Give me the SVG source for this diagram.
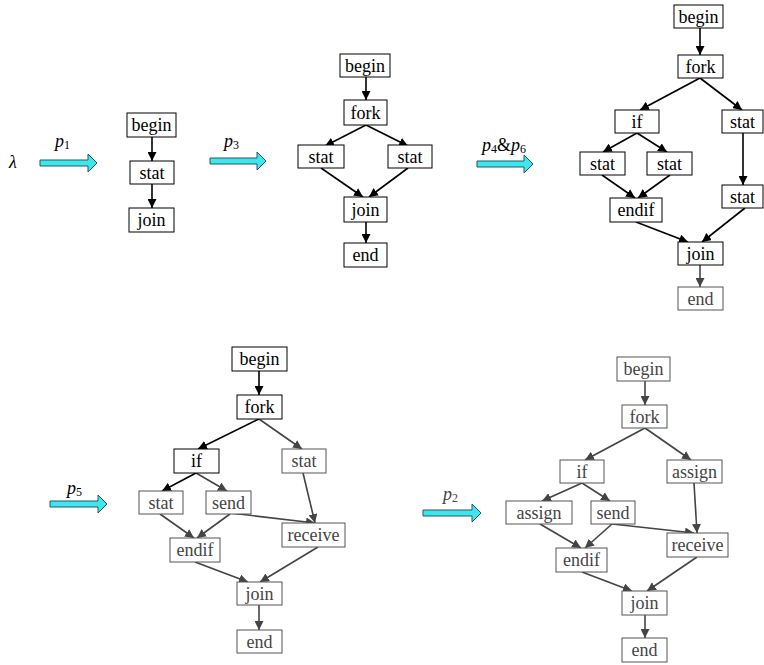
<svg xmlns="http://www.w3.org/2000/svg" width="764" height="665" viewBox="0 0 764 665" font-family="'Liberation Serif', 'Times New Roman', 'DejaVu Serif', serif">
<style>
text{font-family:'Liberation Serif','Times New Roman','DejaVu Serif',serif}
.n rect{fill:#fff;stroke:#000;stroke-width:1}
.n text{font-size:18px;fill:#000;text-anchor:middle}
.g rect{fill:#fff;stroke:#555;stroke-width:1}
.g text{font-size:18px;fill:#444;text-anchor:middle}
.e{stroke:#000;stroke-width:1.6;fill:none;marker-end:url(#ab)}
.eg{stroke:#444;stroke-width:1.6;fill:none;marker-end:url(#ag)}
.ca{fill:#40e6ee;stroke:#1f5a64;stroke-width:1}
.lb{font-size:18px;font-style:italic;fill:#000}
.lbg{font-size:18px;font-style:italic;fill:#444}
.sub{font-style:normal;font-size:12px}
</style>
<defs>
<marker id="ab" markerUnits="userSpaceOnUse" markerWidth="9" markerHeight="9" refX="9" refY="4.5" orient="auto"><path d="M0,0L9,4.5L0,9z" fill="#000"/></marker>
<marker id="ag" markerUnits="userSpaceOnUse" markerWidth="9" markerHeight="9" refX="9" refY="4.5" orient="auto"><path d="M0,0L9,4.5L0,9z" fill="#444"/></marker>
</defs>
<rect width="764" height="665" fill="#fff"/>

<g id="transitions">
<text x="9" y="168" class="lb" font-size="20">λ</text>
<text x="55" y="147" class="lb">p<tspan class="sub" dy="2">1</tspan></text>
<polygon class="ca" points="40,160 88,160 88,154 97,163 88,172 88,166 40,166"/>
<text x="224" y="147" class="lb">p<tspan class="sub" dy="2">3</tspan></text>
<polygon class="ca" points="210,158 257,158 257,152 266,161 257,170 257,164 210,164"/>
<text x="482" y="151" class="lb">p<tspan class="sub" dy="2">4</tspan><tspan dy="-2" style="font-style:normal">&amp;</tspan>p<tspan class="sub" dy="2">6</tspan></text>
<polygon class="ca" points="477,161 524,161 524,155 533,164 524,173 524,167 477,167"/>
<text x="67" y="494" class="lb">p<tspan class="sub" dy="2">5</tspan></text>
<polygon class="ca" points="50,501 98,501 98,495 107,504 98,513 98,507 50,507"/>
<text x="443" y="500" class="lbg">p<tspan class="sub" dy="2">2</tspan></text>
<polygon class="ca" points="423,510 472,510 472,504 481,513 472,522 472,516 423,516"/>
</g>

<g id="connectors">
<line class="e" x1="152" y1="137" x2="152" y2="161"/>
<line class="e" x1="152" y1="184" x2="152" y2="208"/>
<line class="e" x1="366" y1="77" x2="366" y2="100"/>
<line class="e" x1="366" y1="125" x2="325" y2="146"/>
<line class="e" x1="366" y1="125" x2="408" y2="146"/>
<line class="e" x1="321" y1="168" x2="363" y2="197"/>
<line class="e" x1="408" y1="168" x2="369" y2="197"/>
<line class="e" x1="366" y1="222" x2="366" y2="243"/>
<line class="e" x1="700" y1="28" x2="700" y2="55"/>
<line class="e" x1="700" y1="78" x2="640" y2="110"/>
<line class="e" x1="700" y1="78" x2="742" y2="110"/>
<line class="e" x1="637" y1="133" x2="603" y2="152"/>
<line class="e" x1="637" y1="133" x2="667" y2="152"/>
<line class="e" x1="602" y1="175" x2="635" y2="198"/>
<line class="e" x1="670" y1="175" x2="638" y2="198"/>
<line class="e" x1="743" y1="133" x2="743" y2="185"/>
<line class="e" x1="636" y1="222" x2="688" y2="242"/>
<line class="e" x1="745" y1="208" x2="702" y2="242"/>
<line class="eg" x1="700" y1="265" x2="700" y2="287"/>
<line class="e" x1="259" y1="371" x2="259" y2="395"/>
<line class="e" x1="259" y1="419" x2="198" y2="449"/>
<line class="eg" x1="259" y1="419" x2="302" y2="449"/>
<line class="e" x1="196" y1="473" x2="162" y2="491"/>
<line class="eg" x1="196" y1="473" x2="227" y2="491"/>
<line class="eg" x1="160" y1="514" x2="194" y2="538"/>
<line class="eg" x1="230" y1="514" x2="197" y2="538"/>
<line class="eg" x1="230" y1="513" x2="315" y2="523"/>
<line class="eg" x1="303" y1="473" x2="315" y2="523"/>
<line class="eg" x1="195" y1="562" x2="248" y2="582"/>
<line class="eg" x1="318" y1="547" x2="260" y2="582"/>
<line class="eg" x1="259" y1="605" x2="259" y2="630"/>
<line class="eg" x1="645" y1="381" x2="645" y2="405"/>
<line class="eg" x1="645" y1="428" x2="585" y2="460"/>
<line class="eg" x1="645" y1="428" x2="691" y2="460"/>
<line class="eg" x1="582" y1="483" x2="542" y2="501"/>
<line class="eg" x1="582" y1="483" x2="610" y2="501"/>
<line class="eg" x1="540" y1="524" x2="581" y2="548"/>
<line class="eg" x1="612" y1="524" x2="585" y2="548"/>
<line class="eg" x1="612" y1="524" x2="694" y2="533"/>
<line class="eg" x1="694" y1="483" x2="697" y2="533"/>
<line class="eg" x1="582" y1="572" x2="632" y2="591"/>
<line class="eg" x1="697" y1="557" x2="647" y2="591"/>
<line class="eg" x1="645" y1="615" x2="645" y2="638"/>
</g>

<g id="a-begin" class="n"><rect x="127" y="113" width="49" height="24"/><text x="151.5" y="131">begin</text></g>
<g id="a-stat" class="n"><rect x="130" y="161" width="44" height="23"/><text x="152" y="178.5">stat</text></g>
<g id="a-join" class="n"><rect x="129" y="208" width="45" height="24"/><text x="151.5" y="226">join</text></g>

<g id="b-begin" class="n"><rect x="340" y="54" width="50" height="23"/><text x="365" y="71.5">begin</text></g>
<g id="b-fork" class="n"><rect x="344" y="100" width="43" height="25"/><text x="365.5" y="118.5">fork</text></g>
<g id="b-stat1" class="n"><rect x="298" y="145" width="46" height="23"/><text x="321" y="162.5">stat</text></g>
<g id="b-stat2" class="n"><rect x="388" y="145" width="44" height="23"/><text x="410" y="162.5">stat</text></g>
<g id="b-join" class="n"><rect x="344" y="197" width="43" height="25"/><text x="365.5" y="215.5">join</text></g>
<g id="b-end" class="n"><rect x="344" y="243" width="43" height="24"/><text x="365.5" y="261">end</text></g>

<g id="c-begin" class="n"><rect x="674" y="5" width="49" height="23"/><text x="698.5" y="22.5">begin</text></g>
<g id="c-fork" class="n"><rect x="678" y="55" width="45" height="23"/><text x="700.5" y="72.5">fork</text></g>
<g id="c-if" class="n"><rect x="615" y="110" width="44" height="23"/><text x="637" y="127.5">if</text></g>
<g id="c-stat1" class="n"><rect x="722" y="110" width="41" height="23"/><text x="742.5" y="127.5">stat</text></g>
<g id="c-stat2" class="n"><rect x="580" y="152" width="45" height="23"/><text x="602.5" y="169.5">stat</text></g>
<g id="c-stat3" class="n"><rect x="647" y="152" width="45" height="23"/><text x="669.5" y="169.5">stat</text></g>
<g id="c-stat4" class="n"><rect x="722" y="185" width="41" height="23"/><text x="742.5" y="202.5">stat</text></g>
<g id="c-endif" class="n"><rect x="610" y="198" width="52" height="24"/><text x="636" y="216">endif</text></g>
<g id="c-join" class="n"><rect x="678" y="242" width="45" height="23"/><text x="700.5" y="259.5">join</text></g>
<g id="c-end" class="g"><rect x="678" y="287" width="45" height="23"/><text x="700.5" y="304.5">end</text></g>

<g id="d-begin" class="n"><rect x="232" y="347" width="55" height="24"/><text x="259.5" y="365">begin</text></g>
<g id="d-fork" class="n"><rect x="237" y="395" width="45" height="24"/><text x="259.5" y="413">fork</text></g>
<g id="d-if" class="n"><rect x="174" y="449" width="45" height="24"/><text x="196.5" y="467">if</text></g>
<g id="d-stat1" class="g"><rect x="282" y="449" width="44" height="24"/><text x="304" y="467">stat</text></g>
<g id="d-stat2" class="g"><rect x="139" y="491" width="44" height="23"/><text x="161" y="508.5">stat</text></g>
<g id="d-send" class="g"><rect x="206" y="491" width="45" height="23"/><text x="228.5" y="508.5">send</text></g>
<g id="d-receive" class="g"><rect x="282" y="523" width="63" height="24"/><text x="313.5" y="541">receive</text></g>
<g id="d-endif" class="g"><rect x="170" y="538" width="50" height="24"/><text x="195" y="556">endif</text></g>
<g id="d-join" class="g"><rect x="237" y="582" width="45" height="23"/><text x="259.5" y="599.5">join</text></g>
<g id="d-end" class="g"><rect x="237" y="630" width="45" height="23"/><text x="259.5" y="647.5">end</text></g>

<g id="e-begin" class="g"><rect x="617" y="357" width="53" height="24"/><text x="643.5" y="375">begin</text></g>
<g id="e-fork" class="g"><rect x="622" y="405" width="45" height="23"/><text x="644.5" y="422.5">fork</text></g>
<g id="e-if" class="g"><rect x="560" y="460" width="44" height="23"/><text x="582" y="477.5">if</text></g>
<g id="e-assign1" class="g"><rect x="667" y="460" width="55" height="23"/><text x="694.5" y="477.5">assign</text></g>
<g id="e-assign2" class="g"><rect x="506" y="501" width="66" height="23"/><text x="539" y="518.5">assign</text></g>
<g id="e-send" class="g"><rect x="591" y="501" width="44" height="23"/><text x="613" y="518.5">send</text></g>
<g id="e-receive" class="g"><rect x="667" y="533" width="61" height="24"/><text x="697.5" y="551">receive</text></g>
<g id="e-endif" class="g"><rect x="556" y="548" width="51" height="24"/><text x="581.5" y="566">endif</text></g>
<g id="e-join" class="g"><rect x="622" y="591" width="45" height="24"/><text x="644.5" y="609">join</text></g>
<g id="e-end" class="g"><rect x="622" y="638" width="45" height="24"/><text x="644.5" y="656">end</text></g>
</svg>
